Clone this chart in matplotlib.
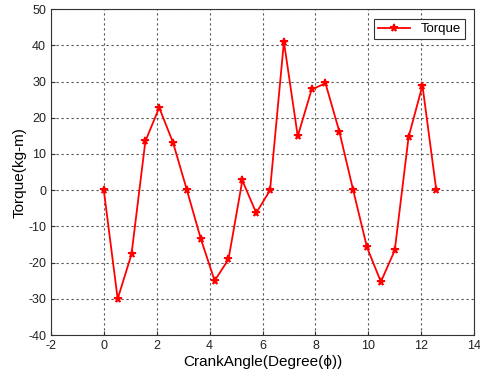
import matplotlib
matplotlib.use("Agg")
import matplotlib.pyplot as plt

plt.rcParams["font.family"] = ["Liberation Sans", "DejaVu Sans"]
plt.rcParams["axes.unicode_minus"] = False

# crank angle (rad) and torque (kg-m)
angle = [0.0, 0.524, 1.047, 1.571, 2.094, 2.618, 3.142, 3.665, 4.189, 4.712,
         5.236, 5.760, 6.283, 6.807, 7.330, 7.854, 8.378, 8.901, 9.425, 9.948,
         10.472, 10.996, 11.519, 12.043, 12.566]
torque = [0.0, -30.0, -17.7, 13.5, 22.8, 13.1, 0.0, -13.4, -25.0, -19.1,
          2.7, -6.3, 0.0, 41.0, 14.9, 27.8, 29.5, 16.2, 0.0, -15.8,
          -25.3, -16.6, 14.7, 28.9, 0.0]

xticks = [-2, 0, 2, 4, 6, 8, 10, 12, 14]
yticks = [-40, -30, -20, -10, 0, 10, 20, 30, 40, 50]

fig = plt.figure(figsize=(4.8, 3.79), dpi=100, facecolor="white")
ax = fig.add_axes([0.106, 0.116, 0.882, 0.860])

ax.plot(angle, torque, color="red", lw=1.3, marker="*", ms=5.5, mew=1.2,
        label="Torque")

ax.set_xlim(-2, 14)
ax.set_ylim(-40, 50)
ax.set_xticks(xticks)
ax.set_yticks(yticks)
ax.grid(True, ls=(0, (2, 2.5)), color="#555555", lw=0.8)
ax.tick_params(direction="in", labelsize=9, length=3, colors="#333333",
               labelcolor="#222222")
for s in ax.spines.values():
    s.set_color("#333333")

ax.set_xlabel("CrankAngle(Degree(\u03d5))", fontsize=11, labelpad=2)
ax.set_ylabel("Torque(kg-m)", fontsize=11, labelpad=1)

leg = ax.legend(loc="upper right", fontsize=9.5, fancybox=False,
                framealpha=1, edgecolor="#333333", handlelength=2.4,
                borderpad=0.3, bbox_to_anchor=(0.993, 0.99))
leg.get_frame().set_linewidth(0.8)

fig.savefig("out.png", dpi=100, facecolor="white")
